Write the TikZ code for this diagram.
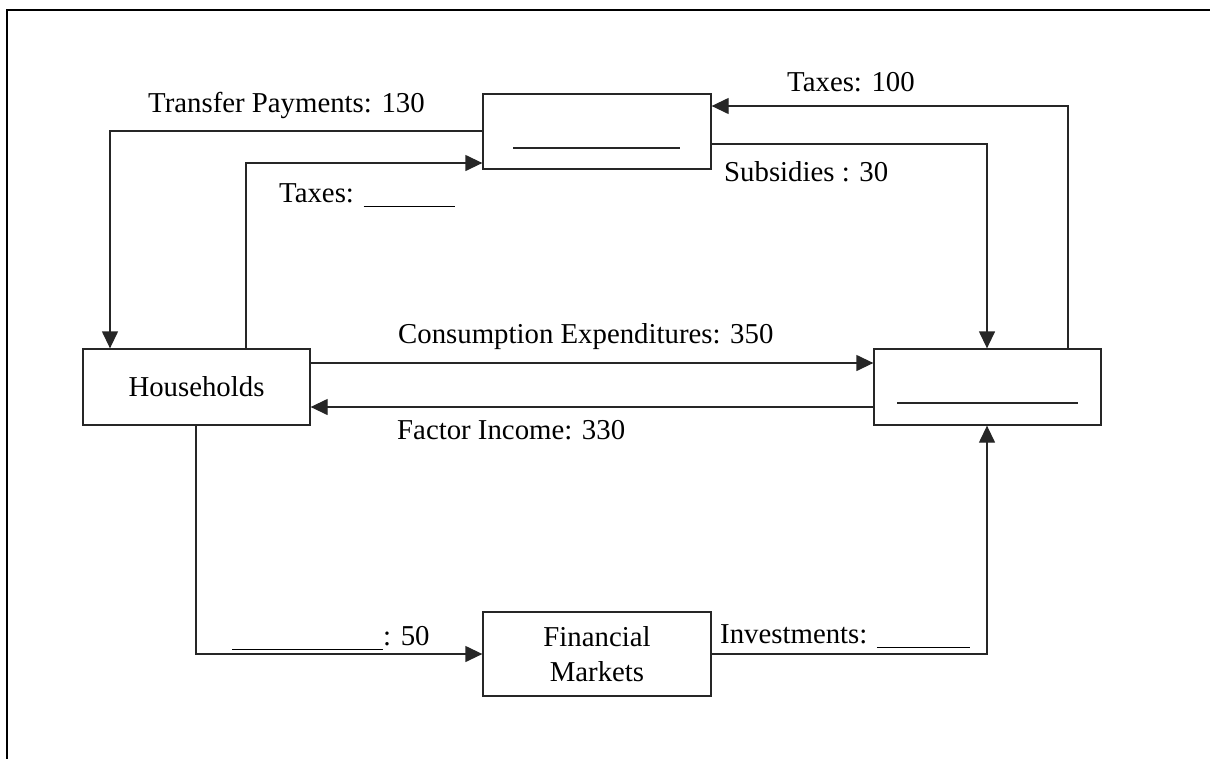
\documentclass[tikz,border=0pt]{standalone}
\usepackage{fontspec}
\setmainfont{Liberation Serif}
\usetikzlibrary{arrows.meta}
\begin{document}
\begin{tikzpicture}[x=1pt,y=-1pt,
  box/.style={draw=black!85, line width=1.3pt, minimum width=227pt, minimum height=76pt, inner sep=0pt, align=center, font=\fontsize{28.8}{36}\selectfont},
  flow/.style={draw=black!85, line width=1.3pt, -{Triangle[length=17pt,width=16pt]}},
  lbl/.style={anchor=base west, inner sep=0pt, font=\fontsize{28.8}{34}\selectfont},
  blank/.style={draw=black!85, line width=1.3pt}
]
\useasboundingbox (0,0) rectangle (1210,758);
% frame
\draw[line width=1.8pt] (7,760) -- (7,10) -- (1212,10);

% nodes
\node[box] (hh) at (196.5,387) {Households};
\node[box, minimum width=228pt, minimum height=75pt] (gov) at (597,131.5) {};
\node[box] (firms) at (987.5,387) {};
\node[box, minimum width=228pt, minimum height=84pt] (fm) at (597,654) {Financial\\[-1pt]Markets};

% blanks in boxes
\draw[blank] (513,148) -- (680,148);
\draw[blank] (897,403) -- (1078,403);

% coordinates for bends
\coordinate (tp1) at (110,131);
\coordinate (tx1) at (246,163);
\coordinate (t100) at (1068,106);
\coordinate (sub) at (987,144);
\coordinate (sav) at (196,654);
\coordinate (inv) at (987,654);

% Transfer payments
\draw[flow] (gov.west |- tp1) -- (tp1) -- (tp1 |- hh.north);
% Taxes from households
\draw[flow] (tx1 |- hh.north) -- (tx1) -- (gov.west |- tx1);
% Taxes 100 from firms
\draw[flow] (t100 |- firms.north) -- (t100) -- (gov.east |- t100);
% Subsidies
\draw[flow] (gov.east |- sub) -- (sub) -- (sub |- firms.north);
% Consumption
\draw[flow] (hh.east |- 0,363) -- (firms.west |- 0,363);
% Factor income
\draw[flow] (firms.west |- 0,407) -- (hh.east |- 0,407);
% Saving
\draw[flow] (sav |- hh.south) -- (sav) -- (fm.west |- sav);
% Investments
\draw[flow] (fm.east |- inv) -- (inv) -- (inv |- firms.south);

% labels
\node[lbl] (ltp) at (148,112) {Transfer Payments: 130};
\node[lbl] (ltx) at (279,202) {Taxes: \rule[-5pt]{91pt}{1.3pt}};
\node[lbl] (lt100) at (787,91) {Taxes: 100};
\node[lbl] (lsub) at (724,181) {Subsidies : 30};
\node[lbl] (lce) at (398,343) {Consumption Expenditures: 350};
\node[lbl] (lfi) at (397,439) {Factor Income: 330};
\node[lbl] (lsav) at (232,645) {\rule[-5pt]{151pt}{1.3pt}: 50};
\node[lbl] (linv) at (720,643) {Investments: \rule[-5pt]{93pt}{1.3pt}};
\end{tikzpicture}
\end{document}
